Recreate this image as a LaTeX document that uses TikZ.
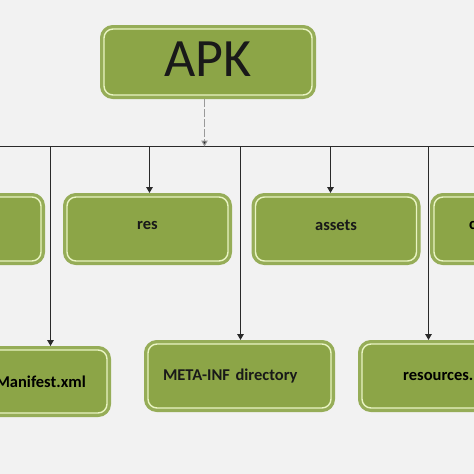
\documentclass[tikz,border=0pt]{standalone}
\usepackage{fontspec}
\setmainfont{Carlito}
\usetikzlibrary{arrows.meta}
\definecolor{bg}{HTML}{F2F2F2}
\definecolor{boxfill}{HTML}{8CA547}
\definecolor{boxborder}{HTML}{96AD58}
\definecolor{boxpale}{HTML}{E9F4C3}
\definecolor{linec}{HTML}{2A2A2A}
\tikzset{
  gbox/.style={fill=boxfill, draw=boxpale, line width=1.4pt, rounded corners=9pt,
    preaction={draw=boxborder, line width=8pt},
    outer sep=4pt, inner sep=0pt, font=\bfseries\fontsize{16.5}{18}\selectfont, text=black!90},
  toprow/.style={gbox, minimum width=161pt, minimum height=64pt, text depth=8pt},
  botrow/.style={gbox, minimum width=183pt, minimum height=64pt},
  conn/.style={draw=linec, line width=1.3pt},
  arr/.style={conn, -{Triangle[length=6pt,width=6.5pt]}},
}
\begin{document}
\begin{tikzpicture}[x=1pt,y=1pt]
\begin{scope}
\clip (0,0) rectangle (474,-474);
\fill[bg] (0,0) rectangle (474,-474);
% top node
\node[gbox, minimum width=208pt, minimum height=66pt, text depth=6pt, font=\fontsize{54}{60}\selectfont] (apk) at (208,-62) {APK};
% top row
\node[toprow] (left) at (-39.5,-229) {};
\node[toprow] (res) at (147.5,-229) {res};
\node[toprow] (assets) at (336,-229) {assets};
\node[toprow] (dex) at (514.5,-229) {};
\node[anchor=west, inner sep=0pt, font=\bfseries\fontsize{16.5}{18}\selectfont, text depth=8pt] (dextxt) at (469,-229) {c};
% bottom row
\node[botrow, minimum width=190pt, minimum height=63pt] (manifest) at (12,-381.5) {};
\node[anchor=east, inner sep=0pt, font=\bfseries\fontsize{16.5}{18}\selectfont] (mantxt) at (86,-381.5) {Manifest.xml};
\node[botrow, text width=153pt, align=left, inner xsep=15pt] (meta) at (239.5,-376) {META-INF directory};
\node[botrow] (resources) at (453.5,-376) {};
\node[anchor=west, inner sep=0pt, font=\bfseries\fontsize{16.5}{18}\selectfont] (restxt) at (403,-376) {resources.};
% bus
\coordinate (busL) at (0,-146.5);
\coordinate (busR) at (474,-146.5);
\coordinate (b1) at (50.5,-146.5);
\coordinate (b2) at (149.5,-146.5);
\coordinate (b3) at (240.5,-146.5);
\coordinate (b4) at (330.5,-146.5);
\coordinate (b5) at (428.5,-146.5);
\coordinate (bA) at (204.5,-146.5);
\draw[conn] (busL) -- (busR);
\draw[draw=gray!80, line width=1.1pt, dash pattern=on 8pt off 2pt, -{Triangle[length=6pt,width=6.5pt,fill=linec]}] (apk.south -| bA) -- (bA);
\draw[arr] (b1) -- (b1 |- manifest.north);
\draw[arr] (b2) -- (b2 |- res.north);
\draw[arr] (b3) -- (b3 |- meta.north);
\draw[arr] (b4) -- (b4 |- assets.north);
\draw[arr] (b5) -- (b5 |- resources.north);
\end{scope}
\useasboundingbox (0,0) rectangle (474,-474);
\end{tikzpicture}
\end{document}
